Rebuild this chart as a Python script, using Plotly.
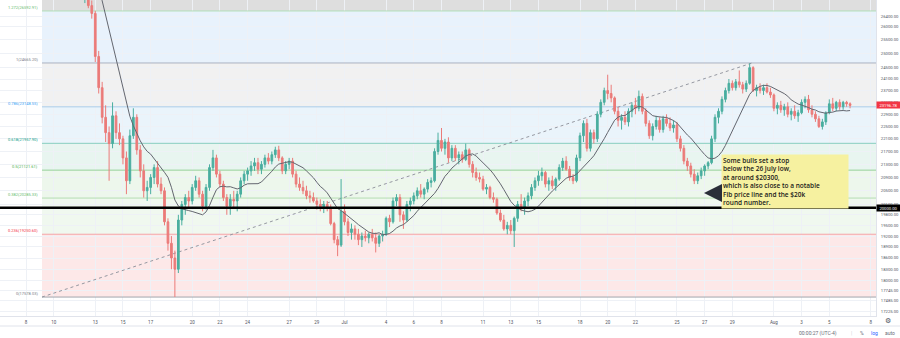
import numpy as np
import pandas as pd
import plotly.graph_objects as go

# ---------------------------------------------------------------------------
# BTC/USD, 6-hour bars, 8 Jun - 6 Aug 2022 (UTC-4)
# ---------------------------------------------------------------------------
bar_start = "2022-06-08 00:00"
first_open = 30100

closes = [
    30300, 30200, 30050, 30100,  # Jun 8
    30200, 30300, 30100, 30080,  # Jun 9
    29700, 29400, 29100, 29050,  # Jun 10
    28900, 28700, 28600, 28400,  # Jun 11
    27600, 27800, 26800, 26500,  # Jun 12
    24900, 23800, 22800, 22300,  # Jun 13
    21950, 22850, 22300, 22100,  # Jun 14
    21500, 20800, 22200, 22800,  # Jun 15
    21750, 21100, 20500, 20600,  # Jun 16
    20900, 21200, 20700, 20500,  # Jun 17
    19600, 19000, 18600, 18300,  # Jun 18
    19650, 20100, 20300, 20200,  # Jun 19
    20600, 20800, 20400, 20050,  # Jun 20
    20600, 21200, 21500, 21000,  # Jun 21
    20700, 20300, 20050, 20250,  # Jun 22
    20200, 20400, 20800, 21000,  # Jun 23
    21100, 21250, 21350, 21150,  # Jun 24
    21300, 21500, 21400, 21600,  # Jun 25
    21750, 21500, 21100, 21300,  # Jun 26
    21400, 21000, 20700, 20600,  # Jun 27
    20500, 20350, 20300, 20200,  # Jun 28
    20100, 20000, 20100, 20000,  # Jun 29
    19550, 19100, 18950, 19900,  # Jun 30
    19600, 19300, 19400, 19250,  # Jul 1
    19100, 19200, 19150, 19250,  # Jul 2
    19150, 19000, 19200, 19250,  # Jul 3
    19700, 19600, 20200, 20300,  # Jul 4
    19800, 19650, 20100, 20200,  # Jul 5
    20350, 20500, 20400, 20550,  # Jul 6
    20750, 20800, 21700, 22050,  # Jul 7
    21800, 22000, 21500, 21800,  # Jul 8
    21500, 21600, 21450, 21750,  # Jul 9
    21300, 21050, 20900, 20850,  # Jul 10
    20550, 20600, 20300, 20250,  # Jul 11
    19850, 19650, 19400, 19500,  # Jul 12
    19350, 19700, 20100, 20000,  # Jul 13
    20200, 20350, 20600, 20800,  # Jul 14
    20950, 21050, 20700, 20800,  # Jul 15
    20650, 20850, 21200, 21400,  # Jul 16
    21150, 20900, 20800, 21500,  # Jul 17
    22200, 22600, 21800, 22300,  # Jul 18
    22100, 22900, 23300, 23700,  # Jul 19
    23600, 23450, 23000, 22700,  # Jul 20
    22800, 22650, 23000, 23200,  # Jul 21
    23100, 23500, 23000, 22600,  # Jul 22
    22200, 22500, 22700, 22400,  # Jul 23
    22750, 22600, 22450, 22550,  # Jul 24
    22100, 21800, 21400, 21250,  # Jul 25
    21000, 20800, 20950, 21100,  # Jul 26
    21250, 21350, 22100, 22800,  # Jul 27
    23000, 23400, 23700, 23950,  # Jul 28
    23800, 24000, 23900, 23750,  # Jul 29
    23950, 24500, 23700, 23800,  # Jul 30
    23700, 23800, 23650, 23550,  # Jul 31
    23100, 23200, 23050, 23150,  # Aug 1
    22900, 23000, 22850, 22950,  # Aug 2
    23300, 23400, 23050, 22900,  # Aug 3
    22750, 22500, 22650, 22950,  # Aug 4
    23250, 23100, 23300, 23150,  # Aug 5
    23300, 23250, 23196.78,      # Aug 6
]

highs = [
    30500, 30450, 30350, 30300,
    30400, 30500, 30400, 30250,
    30150, 29800, 29500, 29300,
    29200, 29000, 28900, 28700,
    28600, 28000, 27900, 27000,
    26600, 25100, 24000, 23200,
    22500, 23300, 23000, 22600,
    22200, 21700, 22400, 23100,
    22900, 21900, 21300, 20800,
    21000, 21300, 21400, 20900,
    20600, 19700, 19200, 18800,
    19800, 20200, 20400, 20500,
    20700, 20950, 20900, 20500,
    20700, 21300, 21750, 21600,
    21100, 20800, 20400, 20400,
    20500, 20500, 20900, 21100,
    21200, 21400, 21500, 21500,
    21400, 21600, 21650, 21700,
    21850, 21880, 21550, 21400,
    21500, 21500, 21100, 20900,
    20800, 20650, 20500, 20450,
    20300, 20250, 20200, 20200,
    20100, 19600, 19200, 20850,
    20100, 19700, 19550, 19500,
    19400, 19300, 19350, 19300,
    19400, 19300, 19250, 19350,
    19750, 19800, 20300, 20400,
    20400, 19900, 20200, 20300,
    20450, 20600, 20700, 20600,
    20850, 20900, 21800, 22300,
    22450, 22100, 22150, 21900,
    21900, 21700, 21700, 21950,
    21800, 21400, 21200, 21050,
    20950, 20700, 20650, 20450,
    20300, 19950, 19800, 19600,
    19650, 19750, 20200, 20400,
    20300, 20450, 20700, 20900,
    21100, 21200, 21100, 20900,
    20950, 20900, 21300, 21500,
    21550, 21250, 21000, 21600,
    22300, 22700, 22750, 22400,
    22400, 23000, 23400, 23800,
    24250, 23900, 23500, 23150,
    22900, 23000, 23100, 23300,
    23450, 23700, 23600, 23100,
    22700, 22600, 22850, 22800,
    22850, 22900, 22800, 22700,
    22650, 22200, 21900, 21500,
    21350, 21150, 21050, 21200,
    21300, 21400, 22200, 22900,
    23100, 23500, 23800, 24100,
    24050, 24100, 24400, 24000,
    24050, 24650, 24550, 23900,
    23950, 23900, 23950, 23800,
    23600, 23300, 23350, 23250,
    23300, 23100, 23200, 23050,
    23400, 23500, 23550, 23200,
    23000, 22850, 22750, 23000,
    23400, 23450, 23350, 23400,
    23350, 23350, 23300,
]

lows = [
    29900, 30000, 29850, 29800,
    29950, 30050, 29900, 29850,
    29500, 29200, 28900, 28850,
    28700, 28500, 28400, 28200,
    27500, 26900, 26700, 26300,
    24700, 23600, 22600, 22000,
    20800, 21800, 22100, 21900,
    21300, 20400, 20700, 22100,
    21600, 20900, 20300, 20200,
    20400, 20700, 20600, 20400,
    19500, 18800, 18300, 17580,
    18200, 19500, 19800, 20000,
    20100, 20500, 20300, 19900,
    19950, 20500, 21100, 20900,
    20600, 20200, 19800, 19800,
    20000, 19900, 20300, 20700,
    20800, 20950, 21100, 21000,
    21000, 21200, 21300, 21300,
    21500, 21400, 21000, 21000,
    21150, 20900, 20600, 20500,
    20400, 20250, 20150, 20150,
    19950, 19900, 19850, 19900,
    19500, 19000, 18650, 18900,
    19500, 19200, 19100, 19100,
    18950, 18900, 19050, 19000,
    19050, 18750, 18900, 19050,
    19200, 19450, 19550, 20050,
    19600, 19400, 19600, 19900,
    20100, 20250, 20300, 20250,
    20450, 20600, 20750, 21600,
    21700, 21600, 21350, 21400,
    21400, 21300, 21350, 21400,
    21200, 20900, 20800, 20750,
    20500, 20400, 20250, 20150,
    19800, 19600, 19350, 19250,
    19250, 18900, 19600, 19900,
    19800, 20050, 20250, 20500,
    20650, 20800, 20600, 20500,
    20550, 20500, 20800, 21100,
    21100, 20800, 20700, 20750,
    21400, 22000, 21700, 21700,
    21950, 22000, 22800, 23200,
    23400, 23300, 22900, 22500,
    22400, 22550, 22500, 22800,
    22900, 23000, 22900, 22500,
    22100, 22050, 22400, 22300,
    22300, 22500, 22350, 22300,
    22000, 21700, 21300, 21100,
    20900, 20700, 20700, 20850,
    20950, 21150, 21300, 22000,
    22600, 22900, 23300, 23600,
    23700, 23700, 23800, 23600,
    23650, 23900, 23650, 23500,
    23600, 23550, 23600, 23450,
    23000, 22900, 22950, 22850,
    22800, 22700, 22750, 22650,
    22900, 23100, 22950, 22800,
    22650, 22450, 22400, 22550,
    22900, 23000, 23000, 23050,
    23050, 23150, 23100,
]

# each 6h bar opens where the previous one closed
opens = [first_open] + closes[:-1]
times = pd.date_range(bar_start, periods=len(closes), freq="6h")

ma_length = 12

# Fibonacci retracement anchors (time, price)
fib_t0, fib_p0 = "2022-06-09 03:43", 17578.03
fib_t1, fib_p1 = "2022-07-30 10:05", 24665.20
fib_ratios = [0, 0.236, 0.382, 0.5, 0.618, 0.786, 1, 1.272]
fib_label_colors = ["#787b86", "#f23645", "#66bb6a", "#4caf50", "#089981",
                    "#42a5f5", "#787b86", "#66bb6a"]
fib_line_colors = ["#a3a6ae", "#f4a3a6", "#b4ddb2", "#96d198", "#86cdbf",
                   "#a9cde9", "#aab1c0", "#b2dfb9"]
# fill of the band that sits under each level (0 has none)
fib_band_colors = [None, "#fde8e8", "#f0f8ef", "#edf7ec", "#e8f5f0",
                   "#eaf4fb", "#f1f1f1", "#e8f2fc"]
top_band_color = "#dedede"

key_level = 20000.00

price_ticks = [26400, 26000, 25500, 25000, 24500, 24100, 23700, 23300, 22900,
               22500, 22100, 21700, 21300, 20900, 20500, 20100, 19800, 19500,
               19200, 18900, 18600, 18300, 18000, 17745, 17485, 17225]

date_ticks = ["2022-06-08", "2022-06-10", "2022-06-13", "2022-06-15",
              "2022-06-17", "2022-06-20", "2022-06-22", "2022-06-24",
              "2022-06-27", "2022-06-29", "2022-07-01", "2022-07-04",
              "2022-07-06", "2022-07-08", "2022-07-11", "2022-07-13",
              "2022-07-15", "2022-07-18", "2022-07-20", "2022-07-22",
              "2022-07-25", "2022-07-27", "2022-07-29", "2022-08-01",
              "2022-08-03", "2022-08-05", "2022-08-08"]
date_labels = ["8", "10", "13", "15", "17", "20", "22", "24", "27", "29",
               "Jul", "4", "6", "8", "11", "13", "15", "18", "20", "22",
               "25", "27", "29", "Aug", "3", "5", "8"]

note_text = ("Some bulls set a stop<br>below the 26 July low,<br>"
             "at around $20300,<br>which is also close to a notable<br>"
             "Fib price line and the $20k<br>round number.")

# ---------------------------------------------------------------------------
x_range = ["2022-06-06 02:57", "2022-08-08 08:56"]
y_range = [4.23306, 4.43167]          # log10 of the visible price window
plot_w, plot_h = 876, 316

UP, DOWN = "#4aae9f", "#eb7b79"
FONT = "Roboto"

fib_prices = [fib_p0 + r * (fib_p1 - fib_p0) for r in fib_ratios]
ma = pd.Series(closes).rolling(ma_length).mean()

fig = go.Figure()

fig.add_trace(go.Candlestick(
    x=times, open=opens, high=highs, low=lows, close=closes,
    increasing=dict(line=dict(color=UP, width=1), fillcolor=UP),
    decreasing=dict(line=dict(color=DOWN, width=1), fillcolor=DOWN),
    whiskerwidth=0, hoverinfo="skip", showlegend=False,
))
fig.add_trace(go.Scatter(
    x=times, y=ma, mode="lines", line=dict(color="#63666f", width=1),
    hoverinfo="skip", showlegend=False,
))

shapes = []
# bands between consecutive levels, extended to the right edge
for i in range(1, len(fib_prices)):
    shapes.append(dict(type="rect", xref="x", yref="y", layer="below",
                       x0=fib_t0, x1=x_range[1], y0=fib_prices[i - 1],
                       y1=fib_prices[i], fillcolor=fib_band_colors[i],
                       line=dict(width=0)))
shapes.append(dict(type="rect", xref="x", yref="y", layer="below",
                   x0=fib_t0, x1=x_range[1], y0=fib_prices[-1], y1=10 ** y_range[1],
                   fillcolor=top_band_color, line=dict(width=0)))
for p, c in zip(fib_prices, fib_line_colors):
    shapes.append(dict(type="line", xref="x", yref="y", layer="between",
                       x0=fib_t0, x1=x_range[1], y0=p, y1=p,
                       line=dict(color=c, width=1)))
# trend line between the two anchors
shapes.append(dict(type="line", xref="x", yref="y", layer="between",
                   x0=fib_t0, x1=fib_t1, y0=fib_p0, y1=fib_p1,
                   line=dict(color="#9598a1", width=1, dash="dot")))
# horizontal key level
shapes.append(dict(type="line", xref="paper", yref="y", layer="above",
                   x0=0, x1=1, y0=key_level, y1=key_level,
                   line=dict(color="#000000", width=2.5)))
# bottom status-bar separator
shapes.append(dict(type="line", xref="paper", yref="paper",
                   x0=0, x1=900 / plot_w, y0=-10 / plot_h, y1=-10 / plot_h,
                   line=dict(color="#e0e3eb", width=1)))

annotations = []
for r, p, c in zip(fib_ratios, fib_prices, fib_label_colors):
    annotations.append(dict(
        xref="paper", yref="y", x=40 / plot_w, y=np.log10(p),
        xanchor="right", yanchor="bottom", yshift=-1, showarrow=False,
        text=f"{r:g}({p:.2f})", font=dict(family=FONT, size=4, color=c)))

# price-scale markers
annotations.append(dict(
    xref="paper", yref="y", x=1, y=np.log10(closes[-1]), xanchor="left",
    yanchor="middle", showarrow=False, text=f"{closes[-1]:.2f}",
    bgcolor="#f23645", width=22, height=5, borderpad=0.5,
    font=dict(family=FONT, size=4.2, color="white")))
annotations.append(dict(
    xref="paper", yref="y", x=1, y=np.log10(key_level), xanchor="left",
    yanchor="middle", showarrow=False, text=f"{key_level:.2f}",
    bgcolor="#000000", width=22, height=5, borderpad=0.5,
    font=dict(family=FONT, size=4.2, color="white")))

# commentary box and arrow
annotations.append(dict(
    xref="paper", yref="paper", x=721 / plot_w, y=1 - 154 / plot_h,
    xanchor="left", yanchor="top", showarrow=False, text=note_text,
    align="left", valign="top", width=124, height=51, borderpad=1,
    bgcolor="#f6f1a0", font=dict(family="Open Sans", size=6.5,
                                 color="#1a1a1a", weight=600)))
annotations.append(dict(
    xref="paper", yref="paper", x=704 / plot_w, y=1 - 193 / plot_h,
    ax=15, ay=0, text="", showarrow=True, arrowhead=2, arrowsize=1.2,
    arrowwidth=3, arrowcolor="#2a2e39"))

# status bar
status = [("00:00:27 (UTC-4)", 818, "#6a6d78"), ("|", 851, "#c9ccd4"),
          ("%", 862, "#6a6d78"), ("log", 874, "#2962ff"), ("auto", 890, "#6a6d78")]
for txt, px, col in status:
    annotations.append(dict(
        xref="paper", yref="paper", x=px / plot_w, y=-17 / plot_h,
        xanchor="center", yanchor="middle", showarrow=False, text=txt,
        font=dict(family=FONT, size=5, color=col)))
annotations.append(dict(
    xref="paper", yref="paper", x=888 / plot_w, y=-5 / plot_h,
    xanchor="center", yanchor="middle", showarrow=False, text="⚙",
    font=dict(family="DejaVu Sans", size=7, color="#50535e")))

fig.update_layout(
    width=900, height=338, margin=dict(l=0, r=24, t=0, b=22),
    paper_bgcolor="white", plot_bgcolor="white", showlegend=False,
    shapes=shapes, annotations=annotations,
    font=dict(family=FONT),
    xaxis=dict(
        type="date", range=x_range, rangeslider=dict(visible=False),
        tickmode="array", tickvals=date_ticks, ticktext=date_labels,
        showgrid=True, gridcolor="#eef1f6", gridwidth=1, zeroline=False,
        showline=True, linecolor="#e0e3eb", ticks="", ticklabelstandoff=2,
        tickfont=dict(family=FONT, size=4.5, color="#50535e"),
    ),
    yaxis=dict(
        type="log", range=y_range, side="right",
        tickmode="array", tickvals=price_ticks,
        ticktext=[f"{v:.2f}" for v in price_ticks],
        showgrid=True, gridcolor="#eef1f6", gridwidth=1, zeroline=False,
        showline=True, linecolor="#e0e3eb", ticks="", ticklabelstandoff=3,
        tickfont=dict(family=FONT, size=4.2, color="#50535e"),
    ),
)

fig.write_html("out.html")
